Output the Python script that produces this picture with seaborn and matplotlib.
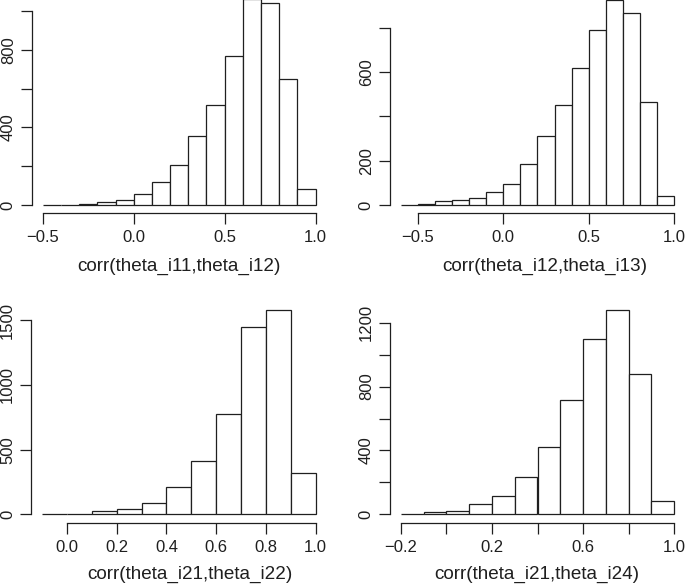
import numpy as np
import pandas as pd
import matplotlib
matplotlib.use("Agg")
import matplotlib.pyplot as plt
import seaborn as sns

# ---------------- data ----------------
edges_11_12 = [-0.5, -0.4, -0.3, -0.2, -0.1, 0.0, 0.1, 0.2, 0.3, 0.4, 0.5, 0.6, 0.7, 0.8, 0.9, 1.0]
counts_11_12 = [1, 2, 5, 17, 24, 55, 120, 205, 358, 514, 767, 1065, 1041, 650, 84]

edges_12_13 = [-0.6, -0.5, -0.4, -0.3, -0.2, -0.1, 0.0, 0.1, 0.2, 0.3, 0.4, 0.5, 0.6, 0.7, 0.8, 0.9, 1.0]
counts_12_13 = [1, 3, 17, 21, 30, 57, 95, 184, 313, 450, 619, 790, 925, 865, 464, 42]

edges_21_22 = [-0.1, 0.0, 0.1, 0.2, 0.3, 0.4, 0.5, 0.6, 0.7, 0.8, 0.9, 1.0]
counts_21_22 = [1, 5, 23, 41, 85, 209, 415, 773, 1446, 1582, 317]

edges_21_24 = [-0.2, -0.1, 0.0, 0.1, 0.2, 0.3, 0.4, 0.5, 0.6, 0.7, 0.8, 0.9, 1.0]
counts_21_24 = [4, 12, 23, 63, 115, 232, 420, 714, 1096, 1281, 881, 83]

labels = ["corr(theta_i11,theta_i12)", "corr(theta_i12,theta_i13)",
          "corr(theta_i21,theta_i22)", "corr(theta_i21,theta_i24)"]

xticks_1 = [-0.5, 0.0, 0.5, 1.0]
xticklabels_1 = ["\u22120.5", "0.0", "0.5", "1.0"]
xticks_3 = [0.0, 0.2, 0.4, 0.6, 0.8, 1.0]
xticklabels_3 = ["0.0", "0.2", "0.4", "0.6", "0.8", "1.0"]
xticks_4 = [-0.2, 0.0, 0.2, 0.4, 0.6, 0.8, 1.0]
xticklabels_4 = ["\u22120.2", "", "0.2", "", "0.6", "", "1.0"]

yticks_1 = [0, 200, 400, 600, 800, 1000]
yticklabels_1 = ["0", "", "400", "", "800", ""]
yticks_2 = [0, 200, 400, 600, 800]
yticklabels_2 = ["0", "200", "", "600", ""]
yticks_3 = [0, 500, 1000, 1500]
yticklabels_3 = ["0", "500", "1000", "1500"]
yticks_4 = [0, 200, 400, 600, 800, 1000, 1200]
yticklabels_4 = ["0", "", "400", "", "800", "", "1200"]

# ---------------- style ----------------
sns.set_theme(style="white")
plt.rcParams["font.family"] = ["Liberation Sans", "DejaVu Sans"]

W, H = 685, 585
fig = plt.figure(figsize=(W / 100, H / 100), dpi=100)

# pixel layout of each plot region: (left, right, bottom, top)
panels = [
    dict(edges=edges_11_12, counts=counts_11_12, label=labels[0],
         box=(31.8, 326.6, 213.3, -9.7), xt=xticks_1, xtl=xticklabels_1,
         yt=yticks_1, ytl=yticklabels_1, lab=(178.7, 270.7)),
    dict(edges=edges_12_13, counts=counts_12_13, label=labels[1],
         box=(389.6, 685.2, 213.2, -8.1), xt=xticks_1, xtl=xticklabels_1,
         yt=yticks_2, ytl=yticklabels_2, lab=(545.0, 270.7)),
    dict(edges=edges_21_22, counts=counts_21_22, label=labels[2],
         box=(31.2, 326.6, 522.5, 301.5), xt=xticks_3, xtl=xticklabels_3,
         yt=yticks_3, ytl=yticklabels_3, lab=(189.7, 579.3)),
    dict(edges=edges_21_24, counts=counts_21_24, label=labels[3],
         box=(389.8, 685.2, 522.5, 301.6), xt=xticks_4, xtl=xticklabels_4,
         yt=yticks_4, ytl=yticklabels_4, lab=(536.7, 579.3)),
]

FS_TICK = 12.0
FS_LAB = 13.6
INK = "#1f1f1f"
for p in panels:
    l, r, b, t = p["box"]
    ax = fig.add_axes([l / W, 1 - b / H, (r - l) / W, (b - t) / H])
    edges = list(p["edges"])
    counts = list(p["counts"])
    centers = [(edges[i] + edges[i + 1]) / 2 for i in range(len(counts))]
    df = pd.DataFrame({"x": centers, "w": counts})
    sns.histplot(data=df, x="x", weights="w", bins=edges, ax=ax,
                 color="white", edgecolor=INK, linewidth=0.9, alpha=1)
    rng = edges[-1] - edges[0]
    ax.set_xlim(edges[0] - 0.04 * rng, edges[-1] + 0.04 * rng)
    M = max(counts)
    ax.set_ylim(-0.04 * M, 1.04 * M)

    for s in ["top", "right"]:
        ax.spines[s].set_visible(False)
    for s in ["left", "bottom"]:
        ax.spines[s].set_color(INK)
        ax.spines[s].set_linewidth(0.9)
    ax.spines["bottom"].set_bounds(p["xt"][0], p["xt"][-1])
    ax.spines["left"].set_bounds(p["yt"][0], p["yt"][-1])

    ax.set_xticks(p["xt"])
    ax.set_xticklabels(p["xtl"], fontsize=FS_TICK)
    ax.set_yticks(p["yt"])
    ax.set_yticklabels(p["ytl"], fontsize=FS_TICK, rotation=90, va="center")
    ax.tick_params(axis="both", direction="out", length=8, width=0.9,
                   color=INK, labelcolor=INK, bottom=True, left=True,
                   top=False, right=False)
    ax.tick_params(axis="x", pad=4.3)
    ax.tick_params(axis="y", pad=3.5)
    ax.set_ylabel("")
    ax.set_xlabel(p["label"], fontsize=FS_LAB, color=INK)
    ax.xaxis.label.set_va("baseline")
    ax.xaxis.set_label_coords(p["lab"][0] / W, 1 - p["lab"][1] / H,
                              transform=fig.transFigure)
    ax.patch.set_alpha(0)

fig.savefig("out.png", dpi=100, facecolor="white")
